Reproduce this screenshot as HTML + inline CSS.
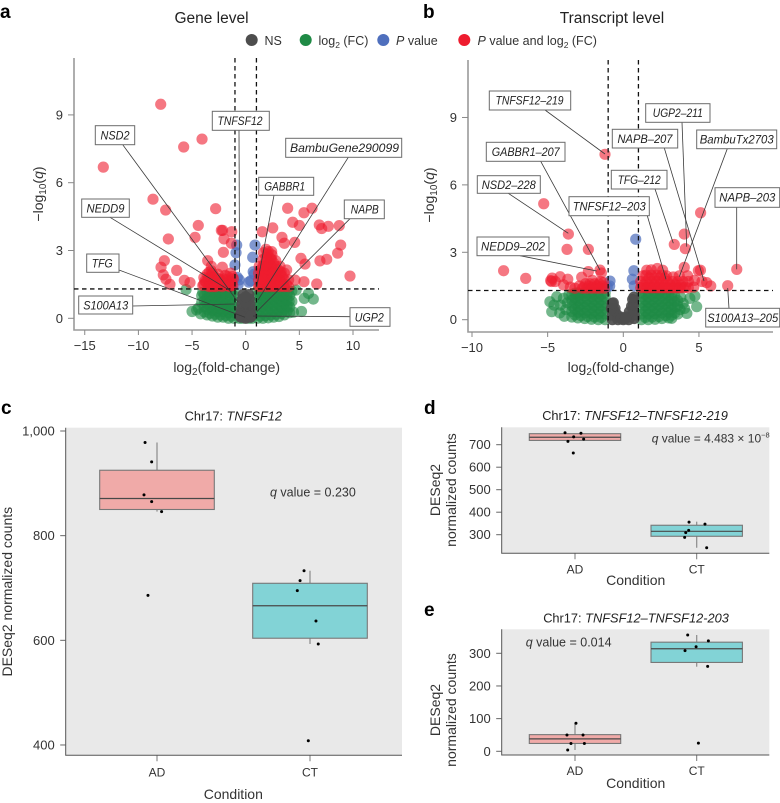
<!DOCTYPE html>
<html lang="en">
<head>
<meta charset="utf-8">
<title>Volcano and box plots for TNFSF12</title>
<style>
html,body{margin:0;padding:0;background:#fff;}
svg{display:block;font-family:"Liberation Sans",sans-serif;fill:#2b2b2b;}
.lab rect{fill:#fff;stroke:#6b6b6b;stroke-width:1;}
.lab text{font-size:11.5px;font-style:italic;text-anchor:middle;fill:#222;}
.lead line{stroke:#3a3a3a;stroke-width:.8;}
.letter{font-size:19px;font-weight:bold;fill:#000;}
.ttl{font-size:15.5px;text-anchor:middle;fill:#222;}
.leg{font-size:12.5px;fill:#333;}
.sub{font-size:12.8px;text-anchor:middle;fill:#222;}
.axt{font-size:14px;text-anchor:middle;fill:#333;}
.q{font-size:12.5px;fill:#333;}
</style>
</head>
<body>
<svg xmlns="http://www.w3.org/2000/svg" width="780" height="803" viewBox="0 0 780 803">
  <text class="letter" x="0" y="18">a</text>
  <text class="letter" x="423" y="18">b</text>
  <text class="letter" x="1" y="414">c</text>
  <text class="letter" x="424" y="414">d</text>
  <text class="letter" x="424" y="616">e</text>

  <text class="ttl" x="211.5" y="23">Gene level</text>
  <text class="ttl" x="612" y="23">Transcript level</text>

  <g>
    <g><circle cx="251.7" cy="40" r="6" fill="#4d4d4d"/><text class="leg" x="264.5" y="45">NS</text></g>
    <g><circle cx="305.7" cy="40" r="6" fill="#1f8a45"/><text class="leg" x="318.5" y="45">log<tspan font-size="8.5" dy="3">2</tspan><tspan dy="-3"> (FC)</tspan></text></g>
    <g><circle cx="383.3" cy="40" r="6" fill="#4f6fbd"/><text class="leg" x="396" y="45"><tspan font-style="italic">P</tspan> value</text></g>
    <g><circle cx="464.3" cy="40" r="6" fill="#ee1c2e"/><text class="leg" x="477.5" y="45"><tspan font-style="italic">P</tspan> value and log<tspan font-size="8.5" dy="3">2</tspan><tspan dy="-3"> (FC)</tspan></text></g>
  </g>

  <g id="plot-a"></g>
  <g class="lead">
    <line x1="122.7" y1="144.7" x2="238" y2="302"/>
    <line x1="239" y1="130.3" x2="239.5" y2="272"/>
    <line x1="348.3" y1="157.3" x2="258" y2="300"/>
    <line x1="274" y1="195.3" x2="256.7" y2="287"/>
    <line x1="110" y1="217.3" x2="231.7" y2="291.7"/>
    <line x1="350" y1="218.7" x2="256.7" y2="311.7"/>
    <line x1="119" y1="270" x2="245" y2="317.3"/>
    <line x1="132.7" y1="306" x2="235" y2="304"/>
    <line x1="350" y1="316.7" x2="253" y2="316"/>
  </g>
  <g>
    <g class="lab"><rect x="95.3" y="125.7" width="39.4" height="19"/><text x="115" y="139.3" textLength="29" lengthAdjust="spacingAndGlyphs">NSD2</text></g>
    <g class="lab"><rect x="212.3" y="111.3" width="57" height="19"/><text x="240" y="125" textLength="45" lengthAdjust="spacingAndGlyphs">TNFSF12</text></g>
    <g class="lab"><rect x="285.7" y="138.3" width="116" height="19"/><text x="344.5" y="152" textLength="109" lengthAdjust="spacingAndGlyphs">BambuGene290099</text></g>
    <g class="lab"><rect x="258.7" y="177.3" width="55" height="18"/><text x="284.7" y="190.5" textLength="41" lengthAdjust="spacingAndGlyphs">GABBR1</text></g>
    <g class="lab"><rect x="81.7" y="199" width="47.6" height="18.3"/><text x="105.5" y="212.4" textLength="38" lengthAdjust="spacingAndGlyphs">NEDD9</text></g>
    <g class="lab"><rect x="344.3" y="200" width="40" height="18.7"/><text x="364.8" y="213.6" textLength="28" lengthAdjust="spacingAndGlyphs">NAPB</text></g>
    <g class="lab"><rect x="86.7" y="254" width="32.3" height="18.3"/><text x="102.2" y="267.4" textLength="21" lengthAdjust="spacingAndGlyphs">TFG</text></g>
    <g class="lab"><rect x="78.7" y="296" width="54" height="18"/><text x="105.7" y="309.3" textLength="45" lengthAdjust="spacingAndGlyphs">S100A13</text></g>
    <g class="lab"><rect x="350" y="307.7" width="40" height="18.6"/><text x="369.3" y="321.3" textLength="29" lengthAdjust="spacingAndGlyphs">UGP2</text></g>
  </g>

  <g id="plot-b"></g>
  <g class="lead">
    <line x1="545" y1="110" x2="605" y2="154"/>
    <line x1="682" y1="122.3" x2="686.7" y2="246.7"/>
    <line x1="664.3" y1="148" x2="704" y2="281"/>
    <line x1="727.3" y1="148.7" x2="679.3" y2="276.7"/>
    <line x1="540.7" y1="161.3" x2="600" y2="270"/>
    <line x1="655" y1="189" x2="673.3" y2="243.3"/>
    <line x1="508.3" y1="193.3" x2="568.3" y2="233.3"/>
    <line x1="736.7" y1="207.3" x2="736.7" y2="269.3"/>
    <line x1="647.3" y1="215.7" x2="666" y2="279.3"/>
    <line x1="520" y1="255.7" x2="596.7" y2="271"/>
    <line x1="729" y1="308.3" x2="727.7" y2="288"/>
  </g>
  <g>
    <g class="lab"><rect x="489.3" y="91" width="81.4" height="19"/><text x="529.5" y="104.6" textLength="68" lengthAdjust="spacingAndGlyphs">TNFSF12–219</text></g>
    <g class="lab"><rect x="645.7" y="103.7" width="64.3" height="18.6"/><text x="677.8" y="117.2" textLength="50" lengthAdjust="spacingAndGlyphs">UGP2–211</text></g>
    <g class="lab"><rect x="612.3" y="129.3" width="65.4" height="18.7"/><text x="645" y="142.8" textLength="55" lengthAdjust="spacingAndGlyphs">NAPB–207</text></g>
    <g class="lab"><rect x="696.7" y="130" width="80" height="18.7"/><text x="736.7" y="143.5" textLength="74" lengthAdjust="spacingAndGlyphs">BambuTx2703</text></g>
    <g class="lab"><rect x="486.3" y="142.3" width="78.7" height="19"/><text x="525.7" y="156" textLength="68" lengthAdjust="spacingAndGlyphs">GABBR1–207</text></g>
    <g class="lab"><rect x="611.3" y="170.3" width="55.7" height="18.7"/><text x="639.2" y="183.8" textLength="43" lengthAdjust="spacingAndGlyphs">TFG–212</text></g>
    <g class="lab"><rect x="477.3" y="175.7" width="63" height="17.6"/><text x="508.8" y="188.8" textLength="54" lengthAdjust="spacingAndGlyphs">NSD2–228</text></g>
    <g class="lab"><rect x="715" y="187.7" width="64.7" height="19.6"/><text x="747.3" y="201.7" textLength="56" lengthAdjust="spacingAndGlyphs">NAPB–203</text></g>
    <g class="lab"><rect x="569" y="196.7" width="80.3" height="19"/><text x="609.2" y="210.4" textLength="73" lengthAdjust="spacingAndGlyphs">TNFSF12–203</text></g>
    <g class="lab"><rect x="477" y="237" width="72" height="18.7"/><text x="513" y="250.5" textLength="64" lengthAdjust="spacingAndGlyphs">NEDD9–202</text></g>
    <g class="lab"><rect x="705.7" y="308.3" width="74" height="18.7"/><text x="742.7" y="321.8" textLength="71" lengthAdjust="spacingAndGlyphs">S100A13–205</text></g>
  </g>

  <g id="plot-c"></g>
  <g id="plot-d"></g>
  <g id="plot-e"></g>

  <text class="sub" x="233.3" y="420.7">Chr17: <tspan font-style="italic">TNFSF12</tspan></text>
  <text class="sub" x="635" y="420">Chr17: <tspan font-style="italic">TNFSF12–TNFSF12-219</tspan></text>
  <text class="sub" x="636" y="622.7">Chr17: <tspan font-style="italic">TNFSF12–TNFSF12-203</tspan></text>

  <text class="q" x="270" y="496.7"><tspan font-style="italic">q</tspan> value = 0.230</text>
  <text class="q" style="font-size:12px" x="651.7" y="442.7"><tspan font-style="italic">q</tspan> value = 4.483 × 10<tspan font-size="7.5" dy="-5">−8</tspan></text>
  <text class="q" x="525.7" y="646.7"><tspan font-style="italic">q</tspan> value = 0.014</text>

  <text class="axt" x="226.7" y="372">log<tspan font-size="10" dy="3">2</tspan><tspan dy="-3">(fold-change)</tspan></text>
  <text class="axt" x="621" y="372">log<tspan font-size="10" dy="3">2</tspan><tspan dy="-3">(fold-change)</tspan></text>
  <text class="axt" transform="translate(43,194) rotate(-90)">−log<tspan font-size="10" dy="3">10</tspan><tspan dy="-3">(<tspan font-style="italic">q</tspan>)</tspan></text>
  <text class="axt" transform="translate(434,195) rotate(-90)">−log<tspan font-size="10" dy="3">10</tspan><tspan dy="-3">(<tspan font-style="italic">q</tspan>)</tspan></text>

  <text class="axt" transform="translate(12,591.7) rotate(-90)">DESeq2 normalized counts</text>
  <text class="axt" x="233.3" y="799">Condition</text>
  <text class="axt" transform="translate(440,490) rotate(-90)">DESeq2</text>
  <text class="axt" transform="translate(456,490) rotate(-90)">normalized counts</text>
  <text class="axt" x="635.7" y="585">Condition</text>
  <text class="axt" transform="translate(440,710) rotate(-90)">DESeq2</text>
  <text class="axt" transform="translate(456,710) rotate(-90)">normalized counts</text>
  <text class="axt" x="635.7" y="788">Condition</text>
</svg>

<script>
/* ---------- Volcano data: [log2 fold change, -log10 q] ---------- */
const volcanoXTicksGene = [-15, -10, -5, 0, 5, 10];
const volcanoXTicksTranscript = [-10, -5, 0, 5];
const volcanoYTicks = [0, 3, 6, 9];
const thresholdFC = 1;
const thresholdQ = 1.3;

const geneGreen = [
[-5.56,1.27],[-4.57,.37],[-5.0,.3],[-4.2,.2],[-4.4,.45],[-4.1,.7],[-4.1,1.0],[-4.0,1.15],
[-3.6,.15],[-3.6,.4],[-3.6,.65],[-3.6,.9],[-3.6,1.15],[-3.1,.1],[-3.1,.35],[-3.1,.6],[-3.1,.85],[-3.1,1.15],
[-2.6,.05],[-2.6,.3],[-2.6,.55],[-2.6,.8],[-2.6,1.05],[-2.6,1.2],[-2.1,.05],[-2.1,.3],[-2.1,.55],[-2.1,.8],[-2.1,1.05],[-2.1,1.2],
[-1.6,.0],[-1.6,.25],[-1.6,.5],[-1.6,.75],[-1.6,1.0],[-1.6,1.2],[-1.1,.0],[-1.1,.25],[-1.1,.5],[-1.1,.75],[-1.1,1.0],[-1.1,1.2],
[-.6,.0],[-.3,.0],[.3,.0],[.6,.0],
[1.1,.0],[1.1,.25],[1.1,.5],[1.1,.75],[1.1,1.0],[1.1,1.2],[1.6,.0],[1.6,.25],[1.6,.5],[1.6,.75],[1.6,1.0],[1.6,1.2],
[2.1,.02],[2.1,.3],[2.1,.55],[2.1,.8],[2.1,1.05],[2.1,1.2],[2.6,.05],[2.6,.3],[2.6,.55],[2.6,.8],[2.6,1.05],[2.6,1.25],
[3.1,.08],[3.1,.35],[3.1,.6],[3.1,.85],[3.1,1.1],[3.1,1.25],[3.6,.15],[3.6,.4],[3.6,.65],[3.6,.9],[3.6,1.15],
[4.1,.25],[4.1,.5],[4.05,.75],[4.1,1.0],[4.3,1.2],[4.45,.27],[4.3,.75],[5.2,.3],[5.46,.88],[6.3,.85],[5.85,1.1],[4.7,1.25],
[-3.85,.28],[-3.85,.52],[-3.85,.78],[-3.85,1.02],[-3.35,.22],[-3.35,.48],[-3.35,.72],[-3.35,.98],[-3.35,1.2],
[-2.85,.18],[-2.85,.42],[-2.85,.68],[-2.85,.92],[-2.85,1.15],[-2.35,.15],[-2.35,.42],[-2.35,.68],[-2.35,.92],[-2.35,1.15],
[-1.85,.12],[-1.85,.38],[-1.85,.62],[-1.85,.88],[-1.85,1.12],[-1.35,.1],[-1.35,.38],[-1.35,.62],[-1.35,.88],[-1.35,1.12],
[1.35,.1],[1.35,.38],[1.35,.62],[1.35,.88],[1.35,1.12],[1.85,.12],[1.85,.38],[1.85,.62],[1.85,.88],[1.85,1.12],
[2.35,.15],[2.35,.42],[2.35,.68],[2.35,.92],[2.35,1.15],[2.85,.18],[2.85,.45],[2.85,.7],[2.85,.95],[2.85,1.18],
[3.35,.22],[3.35,.5],[3.35,.75],[3.35,1.0],[3.35,1.2],[3.85,.3],[3.85,.55],[3.85,.8],[3.85,1.05],[4.0,1.22]
];
const geneGrey = [
[-.25,1.05],[.3,1.05],[-.3,.85],[.35,.85],[-.35,.62],[.4,.62],[-.4,.4],[0,.4],[.42,.4],[0,.7],[0,.95],
[-.45,.2],[.45,.2],[0,.15],[-.2,.05],[.2,.05],[-.45,.05],[.45,.05],[0,.0],[-.55,.12],[.55,.12]
];
const geneBlue = [
[-.84,3.24],[.87,3.24],[-.9,2.9],[.65,2.7],[-1,2.36],[.7,2.06],[-.78,1.81],[.47,1.66],[-.6,1.7],[.3,1.6],[-.7,1.5],[.8,1.95]
];
const geneRed = [
[-7.92,9.47],[-5.78,7.58],[-4.07,7.93],[-13.27,6.69],[-8.64,5.27],[-7.46,4.79],[-2.8,4.85],[-4.42,4.11],[-7.21,3.51],[-4.72,3.58],
[-2.27,3.89],[-2.15,3.89],[-1.3,3.83],[-2.02,3.51],[-1.34,3.32],[-2.08,2.92],[-7.58,2.55],[-3.54,2.55],[-7.89,2.26],[-6.43,2.12],
[-2.18,2.26],[-7.68,1.92],[-7.43,1.73],[-7.06,1.5],[-5.72,1.68],[-5.19,1.58],
[3.91,4.87],[5.43,4.67],[6.18,4.87],[4.38,4.25],[5.0,4.11],[2.52,4.0],[1.55,3.83],[6.86,4.13],[7.08,3.97],[7.7,4.07],[8.72,4.1],
[3.38,3.58],[3.6,3.32],[4.57,3.36],[8.85,3.24],[8.57,2.88],[7.55,2.61],[6.92,2.54],[5.15,2.65],[5.53,2.4],[9.72,1.87],[6.62,1.52],
[5.43,1.62],[4.6,1.69],[1.89,3.05],[2.42,2.95],[3.82,2.14],
[-3.9,1.5],[-3.9,1.8],[-3.5,1.45],[-3.5,1.75],[-3.4,2.05],[-3.1,1.4],[-3.1,1.7],[-3.1,2.0],[-3.2,2.3],[-2.7,1.45],[-2.7,1.7],[-2.6,1.95],
[-2.2,1.4],[-2.2,1.65],[-1.9,1.9],[-1.8,1.45],[-1.8,1.7],[-1.5,1.4],[-1.5,1.65],[-1.4,2.0],[-1.2,1.45],[-1.15,1.75],
[-4.0,1.45],[-3.7,1.6],[-3.3,1.55],[-3.25,1.85],[-2.9,1.55],[-2.9,1.85],[-2.45,1.5],[-2.0,1.55],[-1.65,1.55],[-1.3,1.55],
[-3.8,1.65],[-3.6,1.95],[-3.4,1.4],[-3.2,2.1],[-3.0,1.5],[-3.0,1.8],[-2.8,1.4],[-2.5,1.75],[-2.3,1.45],[-2.1,1.75],[-1.9,1.5],[-1.7,1.85],[-1.4,1.45],[-1.25,1.85],[-1.6,1.45],
[1.2,1.4],[1.2,1.7],[1.2,2.0],[1.25,2.3],[1.6,1.4],[1.6,1.7],[1.6,2.0],[1.6,2.3],[1.6,2.6],[1.65,2.9],
[2.0,1.4],[2.0,1.7],[2.0,2.0],[2.0,2.3],[2.0,2.6],[2.0,2.85],[2.4,1.4],[2.4,1.7],[2.4,2.0],[2.4,2.3],[2.4,2.6],[2.45,2.8],
[2.8,1.4],[2.8,1.7],[2.8,2.0],[2.8,2.3],[2.8,2.55],[3.2,1.4],[3.2,1.7],[3.2,2.0],[3.2,2.3],[3.6,1.4],[3.6,1.7],[3.6,2.0],[4.0,1.4],[4.0,1.7],
[1.4,1.55],[1.4,1.85],[1.4,2.15],[1.8,1.55],[1.8,1.85],[1.8,2.15],[1.8,2.45],[2.2,1.55],[2.2,1.85],[2.2,2.15],[2.2,2.45],[2.6,1.55],[2.6,1.85],[2.6,2.15],[2.6,2.45],
[3.0,1.55],[3.0,1.85],[3.0,2.15],[3.4,1.55],[3.4,1.85],[3.8,1.5],
[1.3,1.45],[1.5,1.75],[1.7,2.05],[1.9,2.35],[1.9,2.7],[2.1,2.95],[2.3,2.65],[2.3,1.45],[2.7,1.45],[2.5,2.0],[2.9,1.75],[3.1,1.45],[3.3,2.05],[3.5,1.45]
];

const transcriptGreen = [
[-4.73,.36],[-4.85,.8],[-4.4,1.02],[-4.58,.65],[-3.96,.95],[-4.2,.3],[-4.15,.65],[-3.9,.15],[-3.8,.45],[-3.7,.75],[-3.6,1.1],
[-3.4,.12],[-3.4,.37],[-3.4,.62],[-3.4,.87],[-3.4,1.1],[-3.0,.08],[-3.0,.33],[-3.0,.58],[-3.0,.83],[-3.0,1.08],[-3.0,1.2],
[-2.55,.05],[-2.55,.3],[-2.55,.55],[-2.55,.8],[-2.55,1.05],[-2.55,1.2],[-2.1,.02],[-2.1,.27],[-2.1,.52],[-2.1,.77],[-2.1,1.02],[-2.1,1.2],
[-1.65,.0],[-1.65,.25],[-1.65,.5],[-1.65,.75],[-1.65,1.0],[-1.65,1.2],[-1.2,.0],[-1.2,.25],[-1.2,.5],[-1.2,.75],[-1.2,1.0],[-1.2,1.2],
[1.2,.0],[1.2,.25],[1.2,.5],[1.2,.75],[1.2,1.0],[1.2,1.2],[1.65,.0],[1.65,.25],[1.65,.5],[1.65,.75],[1.65,1.0],[1.65,1.2],
[2.1,.02],[2.1,.27],[2.1,.52],[2.1,.77],[2.1,1.02],[2.1,1.2],[2.55,.05],[2.55,.3],[2.55,.55],[2.55,.8],[2.55,1.05],[2.4,1.27],
[3.0,.08],[3.0,.33],[3.0,.58],[3.0,.83],[3.0,1.08],[3.2,.06],[3.4,.3],[3.4,.55],[3.4,.8],[3.4,1.05],
[4.73,1.05],[4.85,.58],[4.2,.28],[3.96,.73],[4.4,.95],[3.75,.45],[3.8,1.0],[4.05,.5],
[-3.2,.22],[-3.2,.47],[-3.2,.72],[-3.2,.97],[-3.2,1.18],[-2.8,.18],[-2.8,.43],[-2.8,.68],[-2.8,.93],[-2.8,1.15],
[-2.35,.14],[-2.35,.4],[-2.35,.65],[-2.35,.9],[-2.35,1.15],[-1.9,.12],[-1.9,.38],[-1.9,.62],[-1.9,.88],[-1.9,1.12],
[-1.45,.1],[-1.45,.38],[-1.45,.62],[-1.45,.88],[-1.45,1.12],
[1.45,.1],[1.45,.38],[1.45,.62],[1.45,.88],[1.45,1.12],[1.9,.12],[1.9,.38],[1.9,.62],[1.9,.88],[1.9,1.12],
[2.35,.14],[2.35,.4],[2.35,.65],[2.35,.9],[2.35,1.15],[2.8,.18],[2.8,.45],[2.8,.7],[2.8,.95],[2.8,1.18],
[3.2,.2],[3.2,.45],[3.2,.7],[3.2,.95],[3.2,1.15],[3.6,.25],[3.6,.6],[3.6,.85]
];
const transcriptGrey = [
[-.66,.75],[.62,.9],[-.55,.5],[.55,.6],[-.45,.25],[.4,.35],[-.2,.12],[.2,.12],[-.72,.2],[.72,.2],[-.72,.0],[.72,.05],
[-.35,.0],[0,.0],[.35,.0],[-.15,.05],[.15,.05],[-.62,.42],[.65,.4],[.68,.65],[-.78,.5],[.7,1.0],[-.74,.72]
];
const transcriptBlue = [
[.82,3.58],[.7,2.18],[.6,1.8],[.72,1.5],[-.88,1.72],[-1.06,1.47],[-.9,1.5]
];
const transcriptRed = [
[-1.21,7.36],[-5.26,5.16],[-3.63,3.81],[-3.72,3.13],[-2.31,3.13],[-7.91,2.18],[-6.45,1.84],
[5.11,4.76],[4.03,3.81],[3.37,3.35],[4.1,3.16],[4.03,2.33],[7.5,2.24],[6.9,1.51],[4.96,2.18],[5.1,2.2],[5.51,1.65],[5.78,1.5],[5.2,1.7],
[-4.8,1.74],[-4.7,1.85],[-4.18,1.91],[-3.67,1.8],[-3.95,1.55],[-2.75,1.89],[-2.31,2.14],[-1.54,2.21],[-1.45,2.08],[-3.2,1.4],[-2.9,1.5],
[-2.6,1.45],[-2.3,1.5],[-2.05,1.75],[-2.0,1.45],[-1.7,1.5],[-1.5,1.7],[-1.35,1.5],[-2.5,1.6],[-2.1,1.4],[-1.8,1.4],[-4.5,1.7],[-3.5,1.45],
[-2.7,1.4],[-2.4,1.4],[-2.2,1.6],[-1.9,1.6],[-1.6,1.6],[-1.3,1.65],[-1.25,1.4],[-1.55,1.4],[-4.75,1.7],
[1.15,1.42],[1.15,1.7],[1.3,1.95],[1.5,1.42],[1.5,1.7],[1.5,1.98],[1.55,2.2],[1.85,1.42],[1.85,1.7],[1.85,1.98],[1.85,2.22],
[2.2,1.42],[2.2,1.7],[2.2,1.98],[2.25,2.28],[2.55,1.42],[2.55,1.7],[2.55,1.98],[2.6,2.2],[2.9,1.42],[2.9,1.7],[2.85,1.95],
[3.25,1.42],[3.25,1.7],[3.3,1.9],[3.6,1.42],[3.6,1.7],[3.7,1.95],[3.95,1.42],[3.95,1.7],[4.3,1.42],[4.3,1.7],[4.25,1.95],[4.65,1.45],[4.7,1.75],
[1.35,1.55],[1.7,1.55],[2.05,1.55],[2.4,1.55],[2.75,1.55],[3.1,1.55],[3.45,1.55],[3.8,1.55],[1.7,1.85],[2.05,1.85],[2.4,1.85],[2.75,1.85],
[1.25,1.45],[1.6,1.42],[2.0,1.42],[2.35,1.42],[2.7,1.42],[3.05,1.42],[3.4,1.42],[3.75,1.42],[4.1,1.45]
];

/* ---------- Box plot data ---------- */
const conditions = ['AD', 'CT'];
const panelCTicks = [400, 600, 800, 1000];
const panelCBoxAD = [846, 850, 871, 925, 978];
const panelCBoxCT = [593, 604, 666, 709, 733];
const panelCPointsAD = [[-.078,978],[-.035,941],[-.085,878],[-.035,865],[.03,846],[-.059,686]];
const panelCPointsCT = [[-.039,733],[-.065,714],[-.083,695],[.039,637],[.054,593],[-.011,408]];

const panelDTicks = [300, 400, 500, 600, 700];
const panelDBoxAD = [719, 719, 733, 749, 749];
const panelDBoxCT = [242, 293, 315, 342, 358];
const panelDPointsAD = [[-.082,753],[.049,751],[-.011,735],[.071,725],[-.058,715],[-.014,663]];
const panelDPointsCT = [[-.063,356],[.068,347],[-.066,319],[-.09,309],[-.099,288],[.082,242]];

const panelETicks = [0, 100, 200, 300];
const panelEBoxAD = [4, 24, 38, 51, 86];
const panelEBoxCT = [259, 272, 314, 334, 356];
const panelEPointsAD = [[.008,86],[-.066,50],[.066,50],[-.033,24],[.077,24],[-.06,4]];
const panelEPointsCT = [[-.074,356],[.096,338],[-.005,320],[-.096,308],[.09,260],[.014,25]];

const SVGNS = 'http://www.w3.org/2000/svg';
function make(parent, tag, attrs, text) {
  const node = document.createElementNS(SVGNS, tag);
  for (const key in attrs) node.setAttribute(key, attrs[key]);
  if (text !== undefined) node.textContent = text;
  parent.appendChild(node);
  return node;
}
function minus(v) { return String(v).replace('-', '\u2212'); }
function commas(v) { return v >= 1000 ? String(v).replace(/(\d)(\d{3})$/, '$1,$2') : String(v); }

function drawVolcano(rootId, frame, xTicks, green, grey, blue, red) {
  const root = document.getElementById(rootId);
  const sx = function (v) { return frame.x0 + frame.kx * v; };
  const sy = function (v) { return frame.y0 - frame.ky * v; };

  function series(points, fill, opacity, name) {
    const group = make(root, 'g', { fill: fill, 'fill-opacity': opacity });
    
    
    points.forEach(function (p) {
      const dot = make(group, 'circle', { cx: sx(p[0]), cy: sy(p[1]), r: 5.6 });
      
      
    });
  }
  series(green, '#1f8a45', .62, 'log2fc-points');
  series(grey, '#4d4d4d', .92, 'not-significant-points');
  series(blue, '#4f6fbd', .72, 'p-value-points');
  series(red, '#ee1c2e', .6, 'p-and-log2fc-points');

  const axis = make(root, 'path', { d: 'M' + frame.left + ' ' + frame.top + 'V' + frame.bottom + 'H' + frame.right, fill: 'none', stroke: '#9a9a9a', 'stroke-width': 1.6 });
  
  

  xTicks.forEach(function (t) {
    const tick = make(root, 'line', { x1: sx(t), x2: sx(t), y1: frame.bottom, y2: frame.bottom + 5, stroke: '#888', 'stroke-width': 1 });
    
    
    const label = make(root, 'text', { x: sx(t), y: frame.bottom + 20, 'text-anchor': 'middle', 'font-size': 13, fill: '#333' }, minus(t));
    
    
  });
  volcanoYTicks.forEach(function (t) {
    const tick = make(root, 'line', { x1: frame.left - 6, x2: frame.left, y1: sy(t), y2: sy(t), stroke: '#888', 'stroke-width': 1 });
    
    
    const label = make(root, 'text', { x: frame.left - 11, y: sy(t) + 4.5, 'text-anchor': 'end', 'font-size': 13, fill: '#333' }, t);
    
    
  });

  [-thresholdFC, thresholdFC].forEach(function (v) {
    const line = make(root, 'line', { x1: sx(v), x2: sx(v), y1: frame.top, y2: frame.bottom, stroke: '#111', 'stroke-width': 1.3, 'stroke-dasharray': '4.5 3.5' });
    
    
  });
  const qLine = make(root, 'line', { x1: frame.left, x2: frame.right, y1: sy(thresholdQ), y2: sy(thresholdQ), stroke: '#111', 'stroke-width': 1.3, 'stroke-dasharray': '4.5 3.5' });
  
  
}

function drawBoxPlot(rootId, frame, ticks, boxes, pointSets) {
  const root = document.getElementById(rootId);
  const sy = function (v) { return frame.y0 - frame.ky * v; };
  const catX = [frame.xAD, frame.xCT];
  const fills = ['#f0aaa8', '#82d3d6'];

  const bg = make(root, 'rect', { x: frame.left, y: frame.top, width: frame.right - frame.left, height: frame.bottom - frame.top, fill: '#e9e9e9' });
  
  

  boxes.forEach(function (b, i) {
    const cx = catX[i];
    const group = make(root, 'g', {});
    
    
    const whisker = make(group, 'line', { x1: cx, x2: cx, y1: sy(b[0]), y2: sy(b[4]), stroke: '#8a8a8a', 'stroke-width': 1.2 });
    
    
    const box = make(group, 'rect', { x: cx - frame.halfBox, width: frame.halfBox * 2, y: sy(b[3]), height: sy(b[1]) - sy(b[3]), fill: fills[i], stroke: '#777', 'stroke-width': 1.1 });
    
    
    const med = make(group, 'line', { x1: cx - frame.halfBox, x2: cx + frame.halfBox, y1: sy(b[2]), y2: sy(b[2]), stroke: '#484848', 'stroke-width': 1.2 });
    
    
    pointSets[i].forEach(function (p) {
      const dot = make(group, 'circle', { cx: cx + p[0] * (frame.xCT - frame.xAD), cy: sy(p[1]), r: 1.5, fill: '#000' });
      
      
    });
    const tick = make(root, 'line', { x1: cx, x2: cx, y1: frame.bottom, y2: frame.bottom + 6, stroke: '#777', 'stroke-width': 1 });
    
    
    const label = make(root, 'text', { x: cx, y: frame.bottom + frame.catGap, 'text-anchor': 'middle', 'font-size': 12, fill: '#333' }, conditions[i]);
    
    
  });

  const axis = make(root, 'path', { d: 'M' + frame.left + ' ' + frame.top + 'V' + frame.bottom + 'H' + frame.right, fill: 'none', stroke: '#555', 'stroke-width': 1 });
  
  

  ticks.forEach(function (t) {
    const tick = make(root, 'line', { x1: frame.left - 5.5, x2: frame.left, y1: sy(t), y2: sy(t), stroke: '#666', 'stroke-width': 1 });
    
    
    const label = make(root, 'text', { x: frame.left - 11, y: sy(t) + 4.5, 'text-anchor': 'end', 'font-size': 13, fill: '#333' }, commas(t));
    
    
  });
}

drawVolcano('plot-a', { x0: 245.7, kx: 10.73, y0: 318.3, ky: 22.6, left: 74, right: 379, top: 58, bottom: 330 },
  volcanoXTicksGene, geneGreen, geneGrey, geneBlue, geneRed);
drawVolcano('plot-b', { x0: 623.3, kx: 15.13, y0: 319.7, ky: 22.47, left: 468, right: 773, top: 60, bottom: 332 },
  volcanoXTicksTranscript, transcriptGreen, transcriptGrey, transcriptBlue, transcriptRed);

drawBoxPlot('plot-c', { y0: 954.3, ky: .5233, left: 65.7, right: 402, top: 427.7, bottom: 755.3, xAD: 157, xCT: 310, halfBox: 57.3, catGap: 21 },
  panelCTicks, [panelCBoxAD, panelCBoxCT], [panelCPointsAD, panelCPointsCT]);
drawBoxPlot('plot-d', { y0: 602.2, ky: .225, left: 501.7, right: 769.3, top: 427.3, bottom: 553.3, xAD: 575, xCT: 696.7, halfBox: 45.7, catGap: 20 },
  panelDTicks, [panelDBoxAD, panelDBoxCT], [panelDPointsAD, panelDPointsCT]);
drawBoxPlot('plot-e', { y0: 751.3, ky: .3267, left: 501.7, right: 769.3, top: 629.3, bottom: 755, xAD: 575, xCT: 696.7, halfBox: 45.7, catGap: 20 },
  panelETicks, [panelEBoxAD, panelEBoxCT], [panelEPointsAD, panelEPointsCT]);
</script>
</body>
</html>
